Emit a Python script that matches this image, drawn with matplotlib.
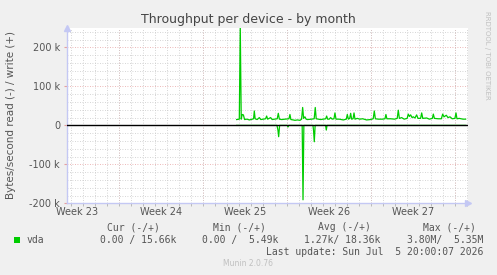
import matplotlib
matplotlib.use("Agg")
import matplotlib.pyplot as plt
import numpy as np

# ---------------- data ----------------
# time axis in days from left edge of the graph
write_days = [14.14, 14.36, 14.44, 14.52, 14.6, 14.7, 14.8, 15.0, 15.2, 15.45, 15.55, 15.61, 15.68,
              15.85, 16.03, 16.15, 16.36, 16.55, 16.64, 16.72, 16.97, 17.1, 17.3, 17.52, 17.61, 17.7,
              17.9, 18.17, 18.5, 18.58, 18.66, 18.85, 19.0, 19.2, 19.42, 19.55, 19.64, 19.72, 19.83,
              19.93, 20.03, 20.39, 20.6, 20.69, 20.77, 20.94, 21.15, 21.36, 21.56, 21.64, 21.72, 21.85,
              21.97, 22.1, 22.25, 22.33, 22.42, 22.69, 23.03, 23.28, 23.36, 23.45, 23.56, 23.64, 23.72,
              23.84, 23.92, 24.0, 24.19, 24.4, 24.64, 24.97, 25.3, 25.52, 25.61, 25.7, 25.94, 26.3,
              26.5, 26.58, 26.66, 26.97, 27.3, 27.52, 27.61, 27.7, 27.89, 28.1, 28.35, 28.44, 28.54,
              28.64, 28.76, 28.86, 29.0, 29.14, 29.25, 29.47, 29.56, 29.65, 29.97, 30.2, 30.45, 30.53,
              30.62, 30.94, 31.2, 31.31, 31.42, 31.61, 31.75, 31.92, 32.1, 32.33, 32.42, 32.5, 32.69,
              33.0, 33.22]
write_k = [15, 16, 255, 16, 28, 27, 15, 16, 14, 16, 17, 37, 17,
           15, 20, 15, 16, 17, 24, 16, 20, 15, 16, 17, 31, 16,
           15, 16, 17, 28, 15, 14, 13, 14, 13, 16, 46, 18, 22,
           16, 15, 16, 17, 46, 17, 16, 15, 16, 17, 24, 16, 16,
           20, 16, 17, 32, 16, 16, 14, 16, 28, 16, 18, 31, 16,
           17, 32, 16, 18, 16, 17, 14, 15, 17, 37, 17, 16, 16,
           17, 28, 17, 17, 16, 18, 39, 18, 20, 16, 18, 29, 23,
           27, 20, 22, 19, 27, 18, 18, 32, 18, 19, 16, 18, 29,
           18, 17, 17, 29, 22, 26, 20, 22, 17, 18, 32, 17, 18,
           16, 16]

read_days = [14.14, 17.5, 17.58, 17.64, 17.72, 18.36, 18.42, 18.48, 19.6, 19.67, 19.74,
             20.5, 20.55, 20.61, 20.68, 21.55, 21.61, 21.67, 33.22]
read_k = [0, 0, -12, -29, 0, 0, -4, 0, 0, -191, 0,
          0, -14, -42, 0, 0, -12, 0, 0]

week_labels = ["Week 23", "Week 24", "Week 25", "Week 26", "Week 27"]
week_starts = [4.33, 11.33, 18.33, 25.33, 32.33]
x_span = 33.42
y_ticks = [-200000, -100000, 0, 100000, 200000]
y_tick_labels = ["-200 k", "-100 k", "0", "100 k", "200 k"]

title = "Throughput per device - by month"
ylabel = "Bytes/second read (-) / write (+)"
legend_name = "vda"
headers = ["Cur (-/+)", "Min (-/+)", "Avg (-/+)", "Max (-/+)"]
values = ["0.00 / 15.66k", "0.00 /  5.49k", "1.27k/ 18.36k", "3.80M/  5.35M"]
last_update = "Last update: Sun Jul  5 20:00:07 2026"
footer = "Munin 2.0.76"
side = "RRDTOOL / TOBI OETIKER"

# ---------------- figure ----------------
W, H = 497, 275
fig = plt.figure(figsize=(W / 100, H / 100), dpi=100, facecolor="#f0f0f0")
L, R, T, B = 67, 468, 28, 203.3
ax = fig.add_axes([L / W, 1 - B / H, (R - L) / W, (B - T) / H], facecolor="white")

green = "#00cc00"
txt = "#555555"
axis_col = "#c4c8f4"

ax.set_xlim(0, x_span)
ax.set_ylim(-200000, 250000)

# grids
minor_days = np.arange(0.33, x_span, 1.0)
ax.set_xticks(minor_days, minor=True)
ax.set_yticks(np.arange(-200000, 250001, 20000), minor=True)
ax.grid(which="minor", color="#c8c8c8", linestyle=(0, (1, 2)), linewidth=0.6)
for d in week_starts:
    ax.axvline(d, color="#e6a0a0", linestyle=(0, (1, 2)), linewidth=0.6, zorder=1)
for yv in y_ticks:
    ax.axhline(yv, color="#e6a0a0", linestyle=(0, (1, 2)), linewidth=0.6, zorder=1)

centers = [s - 3.5 for s in week_starts]
ax.set_xticks(centers)
ax.set_xticklabels(week_labels)
ax.set_yticks(y_ticks)
ax.set_yticklabels(y_tick_labels)
ax.tick_params(axis="x", which="major", length=0, pad=3, labelsize=7, labelcolor=txt)
ax.tick_params(axis="x", which="minor", length=2, color="#b0b0b0", width=0.6)
ax.tick_params(axis="y", which="major", length=2, color="#e6a0a0", pad=3, labelsize=7, labelcolor=txt)
ax.tick_params(axis="y", which="minor", length=0)

for s in ["top", "right"]:
    ax.spines[s].set_visible(False)
for s in ["left", "bottom"]:
    ax.spines[s].set_color(axis_col)
    ax.spines[s].set_linewidth(1.0)

# arrows
ax.plot([0], [1.0], marker="^", color=axis_col, markersize=4, transform=ax.transAxes, clip_on=False)
ax.plot([1.0], [0], marker=">", color=axis_col, markersize=4, transform=ax.transAxes, clip_on=False)

# data
ax.plot(write_days, np.array(write_k) * 1000, color=green, linewidth=0.9, zorder=3)
ax.plot(read_days, np.array(read_k) * 1000, color=green, linewidth=0.9, zorder=3)
ax.axhline(0, color="black", linewidth=1.0, zorder=4)

# text
fig.text(248 / W, 1 - 19 / H, title, ha="center", va="center", fontsize=9, color="#444444")
fig.text(11 / W, 1 - 115 / H, ylabel, ha="center", va="center", rotation=90, fontsize=7.5, color=txt)
fig.text(487 / W, 1 - 55 / H, side, ha="center", va="center", rotation=270, fontsize=5, color="#c0c0c0")

mono = "DejaVu Sans Mono"
hdr_right = [160, 266, 371, 476]
val_right = [176, 278, 380, 483]
for h, xr in zip(headers, hdr_right):
    fig.text(xr / W, 1 - 227.5 / H, h, ha="right", va="center", fontsize=7, family=mono, color=txt)
fig.patches.append(plt.Rectangle((14 / W, 1 - 243 / H), 6 / W, 6 / H, transform=fig.transFigure,
                                 facecolor=green, edgecolor="none"))
fig.text(27 / W, 1 - 240 / H, legend_name, ha="left", va="center", fontsize=7, family=mono, color=txt)
for v, xr in zip(values, val_right):
    fig.text(xr / W, 1 - 240 / H, v, ha="right", va="center", fontsize=7, family=mono, color=txt)
fig.text(483 / W, 1 - 252 / H, last_update, ha="right", va="center", fontsize=7, family=mono, color=txt)
fig.text(248 / W, 1 - 264 / H, footer, ha="center", va="center", fontsize=5.5, color="#c0c0c0")

fig.savefig("out.png", dpi=100, facecolor=fig.get_facecolor())
